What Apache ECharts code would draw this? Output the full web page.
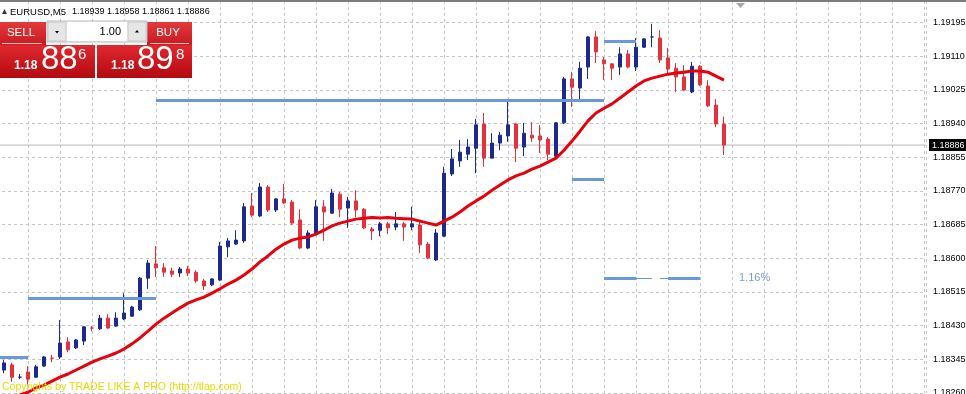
<!DOCTYPE html>
<html><head><meta charset="utf-8">
<script src="https://cdn.jsdelivr.net/npm/echarts@6.0.0/dist/echarts.min.js"></script>
<style>html,body{margin:0;padding:0;background:#fff;overflow:hidden}#c{width:966px;height:394px}</style>
</head><body><div id="c"></div>
<script>
// ---- data (EURUSD M5) ----
const symbol = 'EURUSD,M5';
const opens = [1.18318,1.18331,1.18300,1.18313,1.18300,1.18328,1.18348,1.18351,1.18389,1.18374,1.18391,1.18424,1.18422,1.18449,1.18429,1.18447,1.18454,1.18470,1.18550,1.18586,1.18576,1.18568,1.18563,1.18573,1.18565,1.18543,1.18533,1.18545,1.18629,1.18636,1.18644,1.18732,1.18707,1.18780,1.18722,1.18750,1.18742,1.18697,1.18626,1.18664,1.18730,1.18714,1.18762,1.18727,1.18745,1.18724,1.18674,1.18671,1.18687,1.18679,1.18687,1.18679,1.18684,1.18636,1.18596,1.18656,1.18813,1.18846,1.18863,1.18878,1.18939,1.18853,1.18891,1.18909,1.18939,1.18881,1.18911,1.18909,1.18901,1.18858,1.18942,1.19053,1.19030,1.19083,1.19159,1.19101,1.19091,1.19083,1.19116,1.19083,1.19133,1.19159,1.19156,1.19106,1.19080,1.19058,1.19020,1.19085,1.19035,1.18987,1.18939];
const highs = [1.18343,1.18336,1.18308,1.18328,1.18331,1.18353,1.18356,1.18444,1.18401,1.18396,1.18429,1.18429,1.18457,1.18459,1.18464,1.18512,1.18480,1.18553,1.18596,1.18631,1.18588,1.18576,1.18578,1.18581,1.18570,1.18548,1.18550,1.18641,1.18651,1.18671,1.18740,1.18765,1.18790,1.18785,1.18752,1.18788,1.18747,1.18724,1.18671,1.18747,1.18747,1.18775,1.18767,1.18755,1.18772,1.18727,1.18679,1.18692,1.18692,1.18717,1.18692,1.18730,1.18692,1.18641,1.18674,1.18831,1.18876,1.18899,1.18901,1.18952,1.18967,1.18916,1.18919,1.18995,1.18942,1.18942,1.18944,1.18937,1.18906,1.18944,1.19058,1.19070,1.19096,1.19161,1.19174,1.19108,1.19093,1.19133,1.19126,1.19156,1.19156,1.19192,1.19176,1.19131,1.19093,1.19088,1.19096,1.19088,1.19050,1.19002,1.18958];
const lows = [1.18310,1.18288,1.18295,1.18278,1.18298,1.18326,1.18338,1.18346,1.18363,1.18371,1.18381,1.18416,1.18419,1.18422,1.18427,1.18444,1.18452,1.18467,1.18523,1.18553,1.18553,1.18553,1.18553,1.18555,1.18538,1.18520,1.18530,1.18543,1.18603,1.18634,1.18639,1.18704,1.18704,1.18717,1.18717,1.18737,1.18684,1.18623,1.18623,1.18661,1.18644,1.18712,1.18704,1.18677,1.18704,1.18674,1.18646,1.18656,1.18661,1.18671,1.18644,1.18671,1.18613,1.18598,1.18593,1.18654,1.18808,1.18831,1.18848,1.18815,1.18831,1.18853,1.18873,1.18894,1.18843,1.18858,1.18894,1.18866,1.18848,1.18853,1.18939,1.18982,1.18995,1.19053,1.19093,1.19050,1.19050,1.19063,1.19080,1.19073,1.19131,1.19133,1.19093,1.19068,1.19020,1.19022,1.19017,1.19035,1.18982,1.18931,1.18861];
const closes = [1.18336,1.18300,1.18300,1.18295,1.18326,1.18351,1.18348,1.18386,1.18369,1.18394,1.18427,1.18424,1.18449,1.18424,1.18449,1.18462,1.18477,1.18550,1.18588,1.18576,1.18565,1.18560,1.18573,1.18563,1.18543,1.18530,1.18548,1.18631,1.18644,1.18646,1.18730,1.18709,1.18780,1.18722,1.18750,1.18740,1.18689,1.18626,1.18664,1.18730,1.18717,1.18765,1.18724,1.18745,1.18722,1.18677,1.18669,1.18687,1.18677,1.18687,1.18679,1.18687,1.18634,1.18601,1.18664,1.18815,1.18851,1.18868,1.18881,1.18937,1.18853,1.18891,1.18911,1.18937,1.18878,1.18916,1.18904,1.18899,1.18863,1.18942,1.19053,1.19032,1.19080,1.19159,1.19121,1.19091,1.19080,1.19116,1.19083,1.19133,1.19154,1.19159,1.19101,1.19078,1.19058,1.19025,1.19085,1.19038,1.18985,1.18939,1.18886];
const maValues = [1.18235,1.18245,1.18255,1.18262,1.18273,1.18280,1.18290,1.18300,1.18308,1.18318,1.18328,1.18338,1.18346,1.18353,1.18361,1.18371,1.18384,1.18399,1.18416,1.18434,1.18449,1.18462,1.18475,1.18487,1.18495,1.18502,1.18512,1.18523,1.18535,1.18545,1.18558,1.18573,1.18591,1.18606,1.18623,1.18636,1.18646,1.18651,1.18654,1.18661,1.18671,1.18682,1.18689,1.18694,1.18699,1.18701,1.18703,1.18702,1.18703,1.18701,1.18700,1.18699,1.18694,1.18689,1.18684,1.18694,1.18704,1.18717,1.18732,1.18745,1.18757,1.18772,1.18785,1.18798,1.18808,1.18815,1.18825,1.18833,1.18843,1.18853,1.18873,1.18896,1.18921,1.18947,1.18967,1.18979,1.18990,1.19005,1.19020,1.19035,1.19048,1.19055,1.19060,1.19065,1.19068,1.19070,1.19073,1.19073,1.19070,1.19060,1.19050];
// horizontal level objects (bar-slot positions, price)
const levelPrices = [1.18351,1.18500,1.18999,1.18800,1.19147,1.18550,1.18550];
const levelFrom   = [0,4,20,72,76,76,84];
const levelTo     = [4,20,76,76,80,80,88];
const thinPrices  = [1.18550,1.18550];
const thinFrom    = [80,83];
const thinTo      = [82,84];
const ask = 1.18898;
const lotSize = '1.00';
const pctLabel = '1.16%';
const priceMin = 1.18260, priceStep = 0.00085, priceTicks = 12;

// ---- build ----
const n = closes.length;
const candles = closes.map((c,i)=>[i+1, opens[i], c, lows[i], highs[i]]);
const maLine = maValues.map((v,i)=>[i+1, v]);
const bid = closes[n-1];
const FF = '"Liberation Sans", Arial, sans-serif';
const BULL = '#1b2a8c', BEAR = '#e3323c';

function lvl(prices, from, to){ return prices.map((p,i)=>({coords:[[from[i],p],[to[i],p]]})); }

const chart = echarts.init(document.getElementById('c'), null, {renderer:'canvas'});
const bs = bid.toFixed(5), as = ask.toFixed(5);
const redGrad = new echarts.graphic.LinearGradient(0,0,0,1,[{offset:0,color:'#e0282e'},{offset:1,color:'#b30a10'}]);
const redGrad2 = new echarts.graphic.LinearGradient(0,0,0,1,[{offset:0,color:'#e23a3d'},{offset:1,color:'#c81a20'}]);

chart.setOption({
  animation:false,
  backgroundColor:'#fff',
  grid:{left:-4, right:40, top:-11, bottom:1, containLabel:false, outerBoundsMode:'none'},
  xAxis:{type:'value', min:0, max:116.25, interval:4,
    axisLine:{show:false}, axisTick:{show:false}, axisLabel:{show:false},
    splitLine:{show:true, lineStyle:{color:'#c4c4c4', type:[3,3], width:1}}},
  yAxis:{type:'value', position:'right', min:priceMin, max:priceMin+priceStep*priceTicks, interval:priceStep,
    scale:true,
    axisLine:{show:true, lineStyle:{color:'#000', width:1}},
    axisTick:{show:true, length:3, lineStyle:{color:'#000'}},
    axisLabel:{show:true, margin:7, color:'#000', fontSize:9, fontFamily:FF, formatter:v=>v.toFixed(5)},
    splitLine:{show:true, lineStyle:{color:'#c4c4c4', type:[3,3], width:1}}},
  series:[
    {type:'line', data:[[0,bid],[116.25,bid]], showSymbol:false, silent:true, z:1,
     lineStyle:{color:'#b8b8b8', width:1},
     endLabel:{show:true, formatter:()=>bs, color:'#fff', backgroundColor:'#000', distance:3,
               fontSize:9, fontFamily:FF, padding:[2,3,1,3]}},
    {type:'candlestick', data:candles, barWidth:4, z:3,
     itemStyle:{color:BULL, color0:BEAR, borderColor:BULL, borderColor0:BEAR, borderWidth:1}},
    {type:'lines', coordinateSystem:'cartesian2d', z:4, silent:true,
     lineStyle:{color:'#6a98de', width:3, opacity:1}, data:lvl(levelPrices, levelFrom, levelTo)},
    {type:'lines', coordinateSystem:'cartesian2d', z:4, silent:true,
     lineStyle:{color:'#6a98de', width:1, opacity:1}, data:lvl(thinPrices, thinFrom, thinTo)},
    {type:'line', data:maLine, showSymbol:false, z:5, silent:true,
     lineStyle:{color:'#e8000c', width:3}}
  ],
  graphic:[
    {type:'rect', shape:{x:0,y:0,width:966,height:2}, style:{fill:'#7c7c7c'}, z:100},
    {type:'polygon', shape:{points:[[736,3],[745,3],[740.5,8]]}, style:{fill:'#a6a6a6'}, z:100},
    {type:'polygon', shape:{points:[[2,14],[7,14],[4.5,9]]}, style:{fill:'#333'}, z:100},
    {type:'text', style:{text:symbol, x:10, y:12, fill:'#000', fontSize:9.5, fontFamily:FF, verticalAlign:'middle'}, z:100},
    {type:'text', style:{text:[opens[n-1],highs[n-1],lows[n-1],closes[n-1]].map(v=>v.toFixed(5)).join(' '), x:72, y:12, fill:'#000', fontSize:9, fontFamily:FF, verticalAlign:'middle'}, z:100},
    // one-click panel
    {type:'rect', shape:{x:0,y:22,width:46,height:23}, style:{fill:redGrad2}, z:100},
    {type:'rect', shape:{x:147,y:22,width:45,height:23}, style:{fill:redGrad2}, z:100},
    {type:'line', shape:{x1:2,y1:43.5,x2:42,y2:43.5}, style:{stroke:'#f3c0c0', lineWidth:1}, z:101},
    {type:'line', shape:{x1:150,y1:43.5,x2:189,y2:43.5}, style:{stroke:'#f3c0c0', lineWidth:1}, z:101},
    {type:'text', style:{text:'SELL', x:21, y:33, fill:'#fff', fontSize:11.5, fontFamily:FF, align:'center', verticalAlign:'middle'}, z:101},
    {type:'text', style:{text:'BUY', x:168, y:33, fill:'#fff', fontSize:11.5, fontFamily:FF, align:'center', verticalAlign:'middle'}, z:101},
    {type:'rect', shape:{x:47,y:21,width:100,height:21}, style:{fill:'#f2f2f2', stroke:'#b8b8b8', lineWidth:1}, z:100},
    {type:'rect', shape:{x:48,y:22,width:18,height:19}, style:{fill:'#e6e6e6', stroke:'#c8c8c8', lineWidth:1}, z:101},
    {type:'rect', shape:{x:67,y:22,width:60,height:19}, style:{fill:'#fff'}, z:101},
    {type:'rect', shape:{x:128,y:22,width:18,height:19}, style:{fill:'#e6e6e6', stroke:'#c8c8c8', lineWidth:1}, z:101},
    {type:'polygon', shape:{points:[[55,31],[59,31],[57,33.5]]}, style:{fill:'#000'}, z:102},
    {type:'polygon', shape:{points:[[135,32.5],[139,32.5],[137,30]]}, style:{fill:'#000'}, z:102},
    {type:'text', style:{text:lotSize, x:121, y:31.5, fill:'#000', fontSize:11, fontFamily:FF, align:'right', verticalAlign:'middle'}, z:102},
    {type:'rect', shape:{x:0,y:45,width:95,height:33}, style:{fill:redGrad}, z:100},
    {type:'rect', shape:{x:97,y:45,width:95,height:33}, style:{fill:redGrad}, z:100},
    {type:'text', style:{text:bs.slice(0,4), x:14, y:72, fill:'#fff', fontSize:12, fontWeight:'bold', fontFamily:FF, verticalAlign:'bottom'}, z:101},
    {type:'text', style:{text:bs.slice(4,6), x:41, y:76, fill:'#fff', fontSize:33, fontFamily:FF, verticalAlign:'bottom'}, z:101},
    {type:'text', style:{text:bs.slice(6), x:78, y:47, fill:'#fff', fontSize:15, fontFamily:FF, verticalAlign:'top'}, z:101},
    {type:'text', style:{text:as.slice(0,4), x:111, y:72, fill:'#fff', fontSize:12, fontWeight:'bold', fontFamily:FF, verticalAlign:'bottom'}, z:101},
    {type:'text', style:{text:as.slice(4,6), x:137, y:76, fill:'#fff', fontSize:33, fontFamily:FF, verticalAlign:'bottom'}, z:101},
    {type:'text', style:{text:as.slice(6), x:176, y:47, fill:'#fff', fontSize:15, fontFamily:FF, verticalAlign:'top'}, z:101},
    // annotations
    {type:'text', style:{text:pctLabel, x:739, y:278, fill:'#7f9ccc', fontSize:11, fontFamily:FF, verticalAlign:'middle'}, z:100},
    {type:'text', style:{text:'Copyrights by TRADE LIKE A PRO (http://tlap.com)', x:2, y:387, fill:'#e6dc00', fontSize:10.5, fontFamily:FF, verticalAlign:'middle'}, z:100}
  ]
});
</script></body></html>
